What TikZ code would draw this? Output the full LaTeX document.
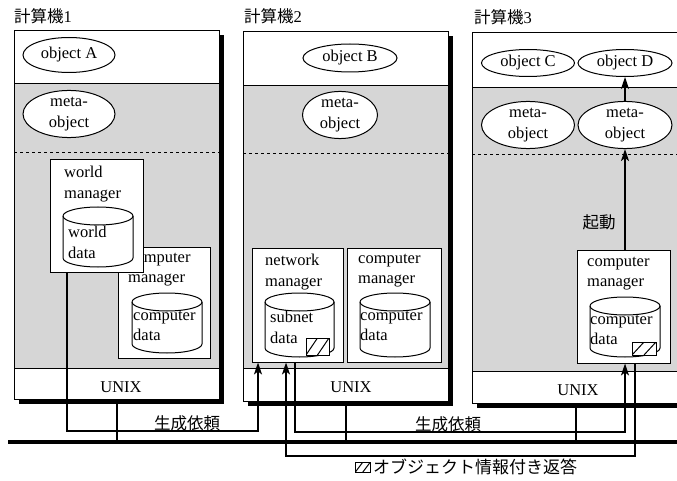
\documentclass[tikz,border=0pt]{standalone}
\usepackage{fontspec}
\setmainfont{Liberation Serif}
\newfontfamily\cjk{Noto Sans CJK JP}
\usetikzlibrary{arrows.meta,shapes.geometric}
\newcommand\dbdrum[4]{%
  \pgfmathsetmacro\drumrx{(#2-#1)/2}%
  \filldraw[fill=white,line width=1pt] (#1,#3+9) -- (#1,#4-9) arc[start angle=180,end angle=360,x radius=\drumrx pt,y radius=9pt] -- (#2,#3+9) arc[start angle=0,end angle=180,x radius=\drumrx pt,y radius=9pt] -- cycle;
  \draw[line width=1pt] (#1,#3+9) arc[start angle=180,end angle=360,x radius=\drumrx pt,y radius=9pt];
}
\definecolor{metagray}{gray}{0.84}
\begin{document}
\begin{tikzpicture}[x=1pt,y=-1pt,
  font=\fontsize{16.5}{20.5}\selectfont,
  obj/.style={ellipse,draw,fill=white,line width=1pt,inner sep=0pt,align=center},
  mgr/.style={rectangle,draw,fill=white,line width=1pt,inner sep=0pt},
  frame/.style={rectangle,draw,line width=0.9pt,inner sep=0pt},
  lbl/.style={anchor=north west,inner sep=0pt,align=left},
  conn/.style={line width=1.3pt},
  arr/.style={line width=1.3pt,-{Stealth[length=12pt,width=8pt,inset=3pt]}},
  hatch/.style={rectangle,draw,fill=white,line width=1pt,inner sep=0pt,
    path picture={\draw[line width=1pt] (path picture bounding box.south west) -- (path picture bounding box.north);
                  \draw[line width=1pt] (path picture bounding box.south) -- (path picture bounding box.north east);}}]
\useasboundingbox (0,0) rectangle (677,481);
\clip (0,0) rectangle (677,481);

% ---------- machine 1 ----------
\fill[black] (19,35) rectangle (224,404);
\fill[white] (14,30) rectangle (219,399);
\fill[metagray] (14,83) rectangle (219,368);
\draw[line width=0.9pt] (14,83) -- (219,83);
\draw[line width=0.9pt] (14,368) -- (219,368);
\draw[dashed,line width=0.9pt] (14,152) -- (219,152);
\node[frame,minimum width=205pt,minimum height=369pt] (m1) at (116.5,214.5) {};
\node[anchor=center,inner sep=0pt] (t1) at (43,16) {{\cjk 計算機}1};

% ---------- machine 2 ----------
\fill[black] (248,36) rectangle (453,406);
\fill[white] (243,31) rectangle (448,401);
\fill[metagray] (243,85) rectangle (448,368);
\draw[line width=0.9pt] (243,85) -- (448,85);
\draw[line width=0.9pt] (243,368) -- (448,368);
\draw[dashed,line width=0.9pt] (243,153) -- (448,153);
\node[frame,minimum width=205pt,minimum height=370pt] (m2) at (345.5,216) {};
\node[anchor=center,inner sep=0pt] (t2) at (273,16) {{\cjk 計算機}2};

% ---------- machine 3 ----------
\fill[black] (477,37) rectangle (690,408);
\fill[white] (472,32) rectangle (685,403);
\fill[metagray] (472,87) rectangle (685,371);
\draw[line width=0.9pt] (472,87) -- (685,87);
\draw[line width=0.9pt] (472,371) -- (685,371);
\draw[dashed,line width=0.9pt] (472,154) -- (685,154);
\node[frame,minimum width=213pt,minimum height=371pt] (m3) at (578.5,217.5) {};
\node[anchor=center,inner sep=0pt] (t3) at (503,17) {{\cjk 計算機}3};

% ---------- objects and meta-objects ----------
\node[obj,minimum width=92pt,minimum height=35pt] (objA) at (69,55) {object A};
\node[obj,minimum width=92pt,minimum height=45pt] (metaA) at (69,114) {meta-\\object};
\node[obj,minimum width=94pt,minimum height=28pt] (objB) at (350,58) {object B};
\node[obj,minimum width=75pt,minimum height=44pt] (metaB) at (340,115) {meta-\\object};
\node[obj,minimum width=93pt,minimum height=27pt] (objC) at (528,63) {object C};
\node[obj,minimum width=94pt,minimum height=27pt] (objD) at (625,63) {object D};
\node[obj,minimum width=93pt,minimum height=46pt] (metaC) at (528,125) {meta-\\object};
\node[obj,minimum width=94pt,minimum height=46pt] (metaD) at (625,125) {meta-\\object};

% ---------- managers ----------
\node[mgr,minimum width=92pt,minimum height=111pt] (cm1) at (164,302.5) {};
\node[lbl] (cm1t) at (128,253) {computer\\manager};
\dbdrum{132}{202}{293}{353}
\node[lbl] (cm1d) at (133,311) {computer\\data};

\node[mgr,minimum width=93pt,minimum height=112pt] (wm) at (96.5,216) {};
\node[lbl] (wmt) at (64,166) {world\\manager};
\dbdrum{63}{133}{207}{267}
\node[lbl] (wmd) at (68,226) {world\\data};

\node[mgr,minimum width=91pt,minimum height=114pt] (nm) at (297.5,305) {};
\node[lbl] (nmt) at (265,254) {network\\manager};
\dbdrum{265}{334}{293}{357}
\node[lbl] (nmd) at (270,311) {subnet\\data};
\node[hatch,minimum width=23pt,minimum height=17pt] (h1) at (317.5,346.5) {};

\node[mgr,minimum width=94pt,minimum height=114pt] (cm2) at (394,305) {};
\node[lbl] (cm2t) at (358,254) {computer\\manager};
\dbdrum{360}{430}{293}{357}
\node[lbl] (cm2d) at (360,311) {computer\\data};

\node[mgr,minimum width=93pt,minimum height=113pt] (cm3) at (623.5,306.5) {};
\node[lbl] (cm3t) at (587,257) {computer\\manager};
\dbdrum{590}{660}{297}{357}
\node[lbl] (cm3d) at (590,315) {computer\\data};
\node[hatch,minimum width=24pt,minimum height=13pt] (h2) at (644,348.5) {};

% ---------- UNIX ----------
\node[inner sep=0pt] (u1) at (121,387) {UNIX};
\node[inner sep=0pt] (u2) at (351,387) {UNIX};
\node[inner sep=0pt] (u3) at (578,390) {UNIX};

% ---------- bus ----------
\coordinate (busL) at (8,442);
\coordinate (busR) at (677,442);
\draw[line width=4pt] (busL) -- (busR);
\coordinate (b1) at (117,442);
\coordinate (b2) at (346,442);
\coordinate (b3) at (576,442);
\draw[conn] (b1 |- m1.south) -- (b1);
\draw[conn] (b2 |- m2.south) -- (b2);
\draw[conn] (b3 |- m3.south) -- (b3);

% ---------- requests and replies ----------
\coordinate (a1) at (67,431);
\coordinate (a2) at (258,431);
\draw[arr] (a1 |- wm.south) -- (a1) -- (a2) -- (a2 |- nm.south);
\coordinate (r1) at (295,432);
\coordinate (r2) at (625,432);
\draw[arr] (r1 |- nm.south) -- (r1) -- (r2) -- (r2 |- cm3.south);
\coordinate (c1) at (635,456);
\coordinate (c2) at (286,456);
\draw[arr] (c1 |- cm3.south) -- (c1) -- (c2) -- (c2 |- nm.south);

\draw[arr] (metaD.south |- cm3.north) -- (metaD.south);
\draw[arr] (metaD.north) -- (objD.south);

\node[inner sep=0pt] (g1) at (187,423) {\cjk 生成依頼};
\node[inner sep=0pt] (g2) at (448,424) {\cjk 生成依頼};
\node[inner sep=0pt] (k1) at (599,222) {\cjk 起動};

% ---------- legend ----------
\node[hatch,minimum width=15pt,minimum height=10pt] (h3) at (362.5,467.5) {};
\node[anchor=west,inner sep=0pt,font=\fontsize{17}{20}\selectfont] (leg) at (373,467) {\cjk オブジェクト情報付き返答};
\end{tikzpicture}
\end{document}
